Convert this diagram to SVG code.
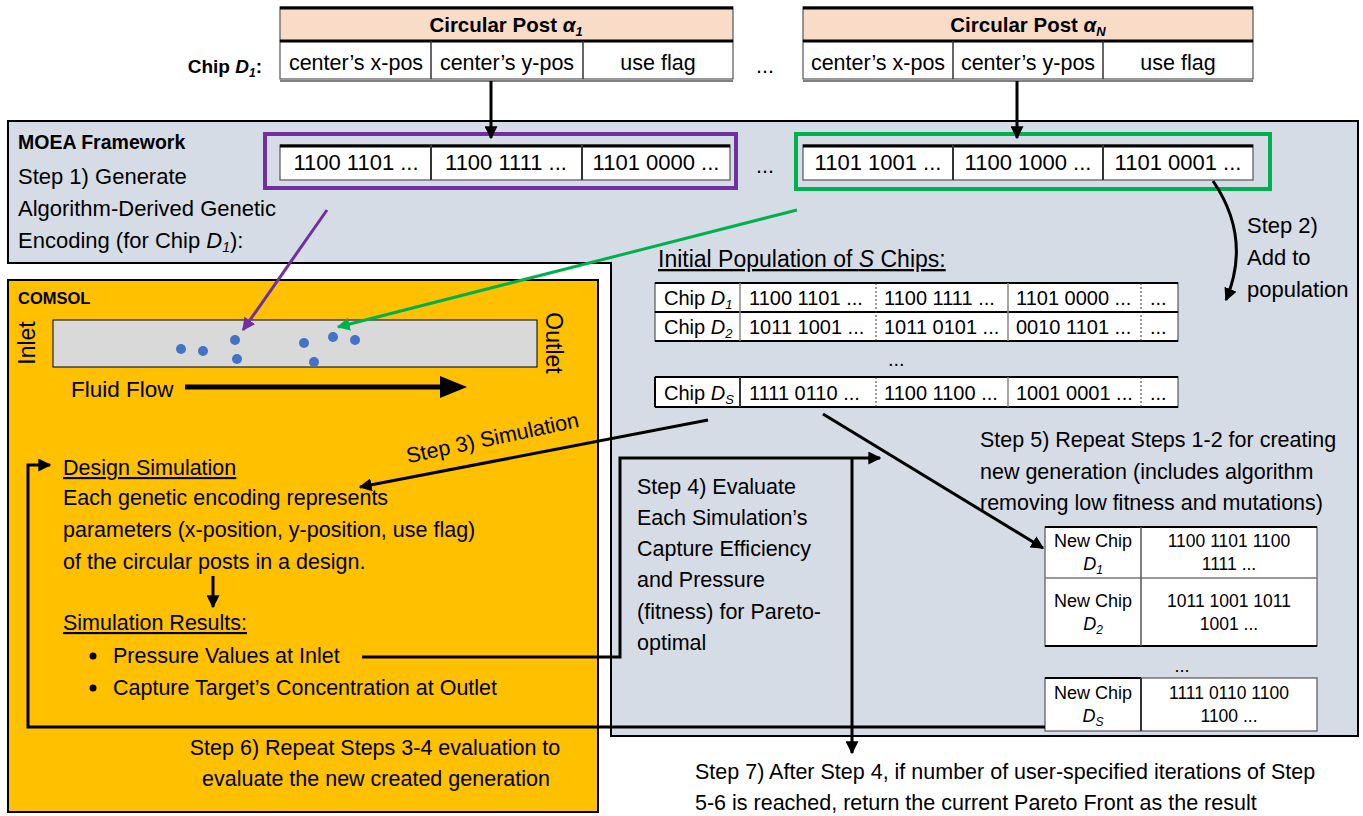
<svg xmlns="http://www.w3.org/2000/svg" width="1363" height="816" viewBox="0 0 1363 816">
<style>
.t{font-family:"Liberation Sans",Arial,sans-serif;font-size:21.5px;fill:#000}
.b{font-weight:bold}
.s{font-size:20px}
.n{font-size:18px}
.m{text-anchor:middle}
.i{font-style:italic}
.u{text-decoration:underline}
.cell{fill:#fff;stroke:#555;stroke-width:1.2}
.hdr{fill:#F9DCC8;stroke:#555;stroke-width:1.2}
.div{stroke:#333;stroke-width:1.5}
.dash{stroke:#333;stroke-width:1;stroke-dasharray:2 2}
.thick{stroke:#000;stroke-width:3}
.con{fill:none;stroke:#000;stroke-width:3}
</style>
<defs>
<marker id="ah" viewBox="0 0 10 10" refX="9" refY="5" markerWidth="13" markerHeight="13" markerUnits="userSpaceOnUse" orient="auto"><path d="M0,0 L10,5 L0,10 z" fill="#000"/></marker>
<marker id="ahp" viewBox="0 0 10 10" refX="9" refY="5" markerWidth="13" markerHeight="13" markerUnits="userSpaceOnUse" orient="auto"><path d="M0,0 L10,5 L0,10 z" fill="#7030A0"/></marker>
<marker id="ahg" viewBox="0 0 10 10" refX="9" refY="5" markerWidth="13" markerHeight="13" markerUnits="userSpaceOnUse" orient="auto"><path d="M0,0 L10,5 L0,10 z" fill="#00B050"/></marker>
</defs>

<!-- backgrounds -->
<g id="moea">
<path d="M8,121 H1358 V736 H611 V263 H8 Z" fill="#D6DCE5" stroke="#000" stroke-width="2"/>
<text class="t b" x="18" y="149" style="font-size:19.5px">MOEA Framework</text>
<text class="t" x="18" y="184" style="font-size:22px">Step 1) Generate</text>
<text class="t" x="18" y="216" style="font-size:22px">Algorithm-Derived Genetic</text>
<text class="t" x="18" y="248" style="font-size:22px">Encoding (for Chip <tspan class="i">D</tspan><tspan class="i" style="font-size:14px" dy="4">1</tspan><tspan dy="-4">):</tspan></text>
</g>
<g id="comsol">
<rect x="8" y="280" width="590" height="532" fill="#FFC000" stroke="#000" stroke-width="2"/>
<text class="t b" x="18" y="304" style="font-size:16.5px">COMSOL</text>
</g>

<!-- top tables -->
<g id="chip-label"><text class="t b" x="262" y="73" text-anchor="end" style="font-size:19px">Chip <tspan class="i">D</tspan><tspan class="i" style="font-size:12px" dy="4">1</tspan><tspan dy="-4">:</tspan></text></g>
<g id="post-a1">
<rect class="hdr" x="280" y="7" width="453" height="34"/>
<line class="thick" x1="280" y1="8" x2="733" y2="8"/>
<text class="t b m" x="506" y="32" style="font-size:20.5px">Circular Post  <tspan class="i">α</tspan><tspan class="i" style="font-size:13px" dy="4">1</tspan></text>
<rect class="cell" x="280" y="41" width="453" height="38"/>
<line class="thick" x1="280" y1="41" x2="733" y2="41"/>
<line class="div" x1="431" y1="41" x2="431" y2="79"/>
<line class="div" x1="583" y1="41" x2="583" y2="79"/>
<line stroke="#000" stroke-width="1" x1="280" y1="81" x2="733" y2="81"/>
<text class="t m" x="356" y="70">center’s x-pos</text>
<text class="t m" x="507" y="70">center’s y-pos</text>
<text class="t m" x="658" y="70">use flag</text>
</g>
<g id="dots-top"><text class="t" x="756" y="73">...</text></g>
<g id="post-aN">
<rect class="hdr" x="803" y="7" width="450" height="34"/>
<line class="thick" x1="803" y1="8" x2="1253" y2="8"/>
<text class="t b m" x="1028" y="32" style="font-size:20.5px">Circular Post <tspan class="i">α</tspan><tspan class="i" style="font-size:13px" dy="4">N</tspan></text>
<rect class="cell" x="803" y="41" width="450" height="38"/>
<line class="thick" x1="803" y1="41" x2="1253" y2="41"/>
<line class="div" x1="953" y1="41" x2="953" y2="79"/>
<line class="div" x1="1103" y1="41" x2="1103" y2="79"/>
<line stroke="#000" stroke-width="1" x1="803" y1="81" x2="1253" y2="81"/>
<text class="t m" x="878" y="70">center’s x-pos</text>
<text class="t m" x="1028" y="70">center’s y-pos</text>
<text class="t m" x="1178" y="70">use flag</text>
</g>

<!-- encodings -->
<g id="enc-1">
<rect x="265" y="134" width="471" height="54" fill="none" stroke="#7030A0" stroke-width="4"/>
<rect class="cell" x="280" y="145" width="450" height="35"/>
<line class="thick" x1="280" y1="146" x2="730" y2="146"/>
<line class="div" x1="431" y1="145" x2="431" y2="180" style="stroke-width:2"/>
<line class="div" x1="582" y1="145" x2="582" y2="180" style="stroke-width:2"/>
<text class="t m" x="356" y="170" style="font-size:22px">1100 1101 ...</text>
<text class="t m" x="506" y="170" style="font-size:22px">1100 1111 ...</text>
<text class="t m" x="656" y="170" style="font-size:22px">1101 0000 ...</text>
</g>
<g id="dots-enc"><text class="t" x="756" y="173">...</text></g>
<g id="enc-N">
<rect x="796" y="134" width="474" height="55" fill="none" stroke="#00B050" stroke-width="4"/>
<rect class="cell" x="803" y="145" width="450" height="35"/>
<line class="thick" x1="803" y1="146" x2="1253" y2="146"/>
<line class="div" x1="953" y1="145" x2="953" y2="180" style="stroke-width:2"/>
<line class="div" x1="1103" y1="145" x2="1103" y2="180" style="stroke-width:2"/>
<text class="t m" x="878" y="170" style="font-size:22px">1101 1001 ...</text>
<text class="t m" x="1028" y="170" style="font-size:22px">1100 1000 ...</text>
<text class="t m" x="1178" y="170" style="font-size:22px">1101 0001 ...</text>
</g>

<g id="step2-label" style="font-size:22px">
<text class="t" x="1247" y="233" style="font-size:22px">Step 2)</text>
<text class="t" x="1247" y="265" style="font-size:22px">Add to</text>
<text class="t" x="1247" y="297" style="font-size:22px">population</text>
</g>

<!-- channel -->
<g id="channel">
<rect x="53" y="320" width="484" height="47" fill="#D9D9D9" stroke="#000" stroke-width="1"/>
<g fill="#4472C4">
<circle cx="181" cy="349" r="5"/><circle cx="203" cy="351" r="5"/><circle cx="235" cy="340" r="5"/><circle cx="237" cy="359" r="5"/>
<circle cx="304" cy="343" r="5"/><circle cx="333" cy="337" r="5"/><circle cx="355" cy="340" r="5"/><circle cx="314" cy="362" r="5"/>
</g>
<text class="t m" transform="translate(35,343) rotate(-90)" style="font-size:23px">Inlet</text>
<text class="t m" transform="translate(546,343) rotate(90)" style="font-size:23px">Outlet</text>
<text class="t" x="71" y="397" style="font-size:22.5px">Fluid Flow</text>
<line x1="185" y1="387" x2="442" y2="387" stroke="#000" stroke-width="5"/>
<path d="M440,376 L467,387 L440,398 z" fill="#000"/>
</g>

<!-- design simulation -->
<g id="design-sim">
<text class="t u" x="63" y="475">Design Simulation</text>
<text class="t" x="63" y="505">Each genetic encoding represents</text>
<text class="t" x="63" y="537">parameters (x-position, y-position, use flag)</text>
<text class="t" x="63" y="569">of the circular posts in a design.</text>
</g>
<g id="sim-results">
<text class="t u" x="63" y="630">Simulation Results:</text>
<circle cx="93" cy="656" r="3.5"/>
<text class="t" x="113" y="663">Pressure Values at Inlet</text>
<circle cx="93" cy="688" r="3.5"/>
<text class="t" x="113" y="695">Capture Target’s Concentration at Outlet</text>
</g>
<g id="step6">
<text class="t m" x="375" y="755">Step 6) Repeat Steps 3-4 evaluation to</text>
<text class="t m" x="376" y="786">evaluate the new created generation</text>
</g>

<!-- population -->
<g id="population">
<text class="t u" x="658" y="267" style="font-size:23px">Initial Population of <tspan class="i">S</tspan> Chips:</text>
<rect class="cell" x="655" y="283" width="523" height="29"/>
<rect class="cell" x="655" y="312" width="523" height="29"/>
<line stroke="#000" stroke-width="2" x1="655" y1="283" x2="1178" y2="283"/>
<line stroke="#000" stroke-width="2" x1="655" y1="312" x2="1178" y2="312"/>
<line stroke="#000" stroke-width="2" x1="655" y1="341" x2="1178" y2="341"/>
<line class="div" x1="740" y1="283" x2="740" y2="341" style="stroke:#888"/>
<line class="dash" x1="876" y1="283" x2="876" y2="341"/>
<line class="div" x1="1008" y1="283" x2="1008" y2="341" style="stroke:#888"/>
<line class="dash" x1="1141" y1="283" x2="1141" y2="341"/>
<text class="t s" x="664" y="305">Chip <tspan class="i">D</tspan><tspan class="i" style="font-size:13px" dy="4">1</tspan></text>
<text class="t s" x="749" y="305">1100 1101 ...</text>
<text class="t s" x="884" y="305">1100 1111 ...</text>
<text class="t s" x="1016" y="305">1101 0000 ...</text>
<text class="t s" x="1150" y="305">...</text>
<text class="t s" x="664" y="334">Chip <tspan class="i">D</tspan><tspan class="i" style="font-size:13px" dy="4">2</tspan></text>
<text class="t s" x="749" y="334">1011 1001 ...</text>
<text class="t s" x="884" y="334">1011 0101 ...</text>
<text class="t s" x="1016" y="334">0010 1101 ...</text>
<text class="t s" x="1150" y="334">...</text>
<text class="t s" x="888" y="366">...</text>
<rect class="cell" x="655" y="377" width="523" height="30"/>
<line stroke="#000" stroke-width="2" x1="655" y1="377" x2="1178" y2="377"/>
<line stroke="#000" stroke-width="2" x1="655" y1="407" x2="1178" y2="407"/>
<line stroke="#000" stroke-width="2" x1="655" y1="377" x2="655" y2="407"/>
<line class="div" x1="740" y1="377" x2="740" y2="407" style="stroke-width:2"/>
<line class="dash" x1="876" y1="377" x2="876" y2="407"/>
<line class="div" x1="1008" y1="377" x2="1008" y2="407" style="stroke:#888"/>
<line class="dash" x1="1141" y1="377" x2="1141" y2="407"/>
<text class="t s" x="664" y="400">Chip <tspan class="i">D</tspan><tspan class="i" style="font-size:13px" dy="4">S</tspan></text>
<text class="t s" x="749" y="400">1111 0110 ...</text>
<text class="t s" x="884" y="400">1100 1100 ...</text>
<text class="t s" x="1016" y="400">1001 0001 ...</text>
<text class="t s" x="1150" y="400">...</text>
</g>

<g id="step4">
<text class="t" x="637" y="494">Step 4) Evaluate</text>
<text class="t" x="637" y="525">Each Simulation’s</text>
<text class="t" x="637" y="556">Capture Efficiency</text>
<text class="t" x="637" y="587">and Pressure</text>
<text class="t" x="637" y="619">(fitness) for Pareto-</text>
<text class="t" x="637" y="650">optimal</text>
</g>
<g id="step5">
<text class="t" x="980" y="447">Step 5) Repeat Steps 1-2 for creating</text>
<text class="t" x="980" y="479">new generation (includes algorithm</text>
<text class="t" x="980" y="510">removing low fitness and mutations)</text>
</g>

<g id="new-gen">
<rect class="cell" x="1045" y="527" width="272" height="119"/>
<line stroke="#000" stroke-width="2" x1="1045" y1="527" x2="1317" y2="527"/>
<line stroke="#000" stroke-width="2" x1="1045" y1="646" x2="1317" y2="646"/>
<line class="div" x1="1045" y1="578" x2="1317" y2="578" style="stroke:#777"/>
<line class="div" x1="1141" y1="527" x2="1141" y2="646" style="stroke:#555"/>
<text class="t n m" x="1093" y="547">New Chip</text>
<text class="t n m i" x="1093" y="570">D<tspan style="font-size:12px" dy="4">1</tspan></text>
<text class="t n m" x="1229" y="547" style="font-size:17.5px">1100 1101 1100</text>
<text class="t n m" x="1229" y="570" style="font-size:17.5px">1111 ...</text>
<text class="t n m" x="1093" y="607">New Chip</text>
<text class="t n m i" x="1093" y="630">D<tspan style="font-size:12px" dy="4">2</tspan></text>
<text class="t n m" x="1229" y="607" style="font-size:17.5px">1011 1001 1011</text>
<text class="t n m" x="1229" y="630" style="font-size:17.5px">1001 ...</text>
<text class="t n m" x="1182" y="672">...</text>
<rect class="cell" x="1045" y="678" width="272" height="53"/>
<line stroke="#000" stroke-width="2" x1="1045" y1="678" x2="1141" y2="678"/>
<line class="div" x1="1141" y1="678" x2="1141" y2="731" style="stroke-width:2"/>
<text class="t n m" x="1093" y="699">New Chip</text>
<text class="t n m i" x="1093" y="722">D<tspan style="font-size:12px" dy="4">S</tspan></text>
<text class="t n m" x="1229" y="699" style="font-size:17.5px">1111 0110 1100</text>
<text class="t n m" x="1229" y="722" style="font-size:17.5px">1100  ...</text>
</g>

<g id="step7">
<text class="t" x="695" y="779">Step 7) After Step 4, if number of user-specified iterations of Step</text>
<text class="t" x="695" y="810">5-6 is reached, return the current Pareto Front as the result</text>
</g>

<!-- connectors -->
<g id="connectors">
<line class="con" x1="491" y1="81" x2="491" y2="138" marker-end="url(#ah)"/>
<line class="con" x1="1017" y1="81" x2="1017" y2="138" marker-end="url(#ah)"/>
<path class="con" d="M1213,181 Q1252,238 1226,300" marker-end="url(#ah)"/>
<line x1="327" y1="210" x2="243" y2="330" stroke="#7030A0" stroke-width="3" marker-end="url(#ahp)"/>
<line x1="797" y1="210" x2="338" y2="327" stroke="#00B050" stroke-width="3" marker-end="url(#ahg)"/>
<line class="con" x1="708" y1="420" x2="360" y2="487" marker-end="url(#ah)"/>
<text class="t" transform="translate(494,445) rotate(-12)" text-anchor="middle">Step 3) Simulation</text>
<line class="con" x1="213" y1="576" x2="213" y2="607" marker-end="url(#ah)"/>
<line class="con" x1="823" y1="414" x2="1043" y2="548" marker-end="url(#ah)"/>
<path class="con" d="M362,657 H620 V458 H880" marker-end="url(#ah)"/>
<line class="con" x1="852" y1="458" x2="852" y2="753" marker-end="url(#ah)"/>
<path class="con" d="M1045,727 H28 V465 H50" marker-end="url(#ah)"/>
</g>
</svg>
